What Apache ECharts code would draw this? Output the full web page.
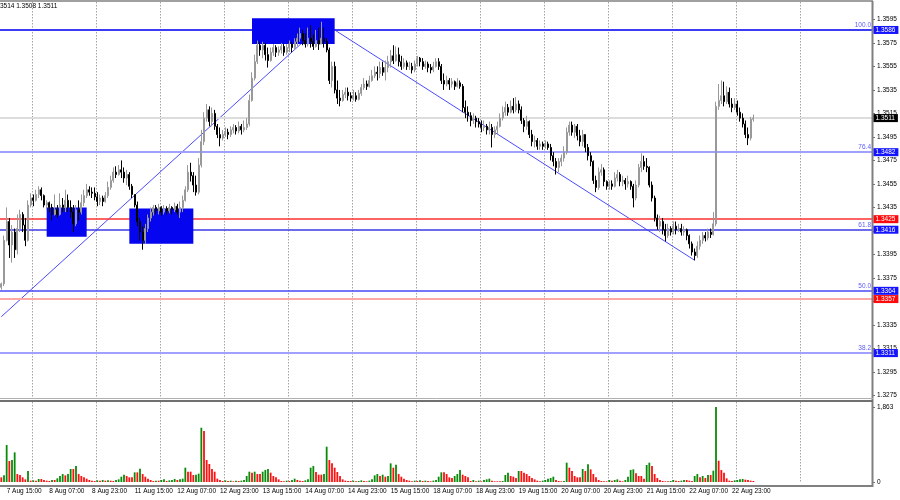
<!DOCTYPE html>
<html><head><meta charset="utf-8">
<script src="https://cdn.jsdelivr.net/npm/echarts@6/dist/echarts.min.js"></script>
<style>html,body{margin:0;padding:0;background:#fff}#c{width:900px;height:500px}</style>
</head><body><div id="c"></div>
<script>
// ---------- DATA (H1 bars) ----------
const days = ['7 Aug','8 Aug','11 Aug','12 Aug','13 Aug','14 Aug','15 Aug','18 Aug','19 Aug','20 Aug','21 Aug','22 Aug','25 Aug'];
const firstHour = 13, lastHour = 7;

const opens = [
1.3367,1.3370,1.3407,1.3423,1.3403,1.3414,1.3399,1.3417,1.3429,1.3420,1.3407,
1.3437,1.3443,1.3441,1.3446,1.3450,1.3445,1.3437,1.3439,1.3435,1.3429,1.3433,1.3429,1.3437,1.3435,1.3441,1.3435,1.3431,1.3421,1.3433,1.3431,1.3439,1.3445,1.3450,1.3448,
1.3447,1.3444,1.3440,1.3443,1.3440,1.3445,1.3452,1.3458,1.3465,1.3463,1.3467,1.3465,1.3460,1.3463,1.3453,1.3446,1.3437,1.3423,1.3414,1.3407,1.3417,1.3426,1.3431,1.3435,
1.3432,1.3435,1.3431,1.3434,1.3432,1.3435,1.3433,1.3436,1.3431,1.3435,1.3441,1.3450,1.3465,1.3462,1.3454,1.3448,1.3471,1.3491,1.3511,1.3518,1.3508,1.3515,1.3504,1.3497,
1.3494,1.3497,1.3499,1.3497,1.3501,1.3503,1.3500,1.3504,1.3501,1.3503,1.3506,1.3526,1.3545,1.3559,1.3573,1.3569,1.3573,1.3565,1.3560,1.3567,1.3571,1.3567,1.3569,1.3572,
1.3567,1.3571,1.3574,1.3571,1.3576,1.3579,1.3583,1.3577,1.3574,1.3579,1.3576,1.3572,1.3577,1.3574,1.3579,1.3576,1.3569,1.3543,1.3555,1.3535,1.3528,1.3526,1.3531,1.3533,
1.3530,1.3528,1.3530,1.3527,1.3532,1.3537,1.3540,1.3538,1.3543,1.3547,1.3550,1.3549,1.3554,1.3550,1.3554,1.3559,1.3564,1.3560,1.3565,1.3559,1.3555,1.3558,1.3555,1.3555,
1.3552,1.3557,1.3562,1.3559,1.3555,1.3557,1.3554,1.3552,1.3555,1.3559,1.3555,1.3543,1.3540,1.3543,1.3540,1.3542,1.3538,1.3541,1.3538,1.3520,1.3516,1.3513,1.3509,1.3511,
1.3508,1.3506,1.3503,1.3504,1.3501,1.3503,1.3497,1.3501,1.3504,1.3511,1.3516,1.3520,1.3516,1.3521,1.3518,1.3523,1.3518,1.3509,1.3504,1.3508,1.3497,1.3491,1.3492,1.3487,
1.3489,1.3487,1.3489,1.3486,1.3479,1.3474,1.3469,1.3474,1.3477,1.3482,1.3499,1.3505,1.3499,1.3504,1.3496,1.3491,1.3497,1.3486,1.3479,1.3474,1.3458,1.3452,1.3465,1.3467,
1.3457,1.3453,1.3455,1.3453,1.3460,1.3463,1.3457,1.3458,1.3455,1.3457,1.3453,1.3443,1.3454,1.3469,1.3474,1.3470,1.3469,1.3454,1.3443,1.3426,1.3419,1.3423,1.3416,1.3411,
1.3417,1.3414,1.3419,1.3416,1.3417,1.3414,1.3416,1.3411,1.3404,1.3397,1.3394,1.3402,1.3407,1.3411,1.3409,1.3414,1.3412,1.3421,1.3521,1.3526,1.3530,1.3525,1.3533,1.3523,
1.3520,1.3523,1.3516,1.3511,1.3506,1.3497,1.3494,1.3510];

const highs = [
1.3371,1.3411,1.3435,1.3426,1.3420,1.3417,1.3429,1.3433,1.3431,1.3426,1.3441,
1.3447,1.3446,1.3450,1.3453,1.3452,1.3446,1.3441,1.3440,1.3438,1.3446,1.3437,1.3447,1.3443,1.3450,1.3446,1.3441,1.3437,1.3437,1.3441,1.3446,1.3450,1.3455,1.3453,1.3452,
1.3452,1.3448,1.3446,1.3445,1.3448,1.3457,1.3462,1.3469,1.3470,1.3471,1.3475,1.3469,1.3467,1.3465,1.3455,1.3446,1.3440,1.3426,1.3419,1.3421,1.3429,1.3435,1.3437,1.3437,
1.3438,1.3436,1.3437,1.3436,1.3438,1.3436,1.3439,1.3438,1.3440,1.3445,1.3453,1.3471,1.3473,1.3465,1.3462,1.3477,1.3501,1.3516,1.3523,1.3521,1.3520,1.3518,1.3506,1.3503,
1.3501,1.3503,1.3502,1.3504,1.3506,1.3505,1.3508,1.3506,1.3509,1.3511,1.3531,1.3550,1.3565,1.3577,1.3576,1.3576,1.3575,1.3571,1.3571,1.3574,1.3573,1.3572,1.3575,1.3574,
1.3574,1.3577,1.3576,1.3579,1.3583,1.3588,1.3586,1.3583,1.3588,1.3590,1.3582,1.3586,1.3588,1.3593,1.3588,1.3579,1.3571,1.3559,1.3559,1.3543,1.3535,1.3535,1.3537,1.3537,
1.3533,1.3535,1.3533,1.3535,1.3540,1.3545,1.3543,1.3547,1.3552,1.3555,1.3555,1.3559,1.3559,1.3560,1.3564,1.3569,1.3573,1.3572,1.3571,1.3564,1.3562,1.3560,1.3559,1.3558,
1.3560,1.3564,1.3563,1.3562,1.3560,1.3559,1.3557,1.3559,1.3562,1.3562,1.3557,1.3549,1.3547,1.3545,1.3545,1.3543,1.3545,1.3543,1.3540,1.3526,1.3521,1.3516,1.3515,1.3513,
1.3511,1.3509,1.3509,1.3506,1.3508,1.3506,1.3504,1.3508,1.3515,1.3521,1.3525,1.3523,1.3526,1.3528,1.3529,1.3526,1.3521,1.3511,1.3513,1.3509,1.3501,1.3496,1.3494,1.3492,
1.3491,1.3492,1.3491,1.3489,1.3482,1.3477,1.3477,1.3480,1.3487,1.3503,1.3508,1.3508,1.3506,1.3506,1.3501,1.3501,1.3497,1.3489,1.3482,1.3475,1.3462,1.3469,1.3472,1.3469,
1.3458,1.3458,1.3458,1.3465,1.3467,1.3465,1.3462,1.3460,1.3462,1.3458,1.3455,1.3458,1.3472,1.3481,1.3479,1.3477,1.3470,1.3457,1.3445,1.3429,1.3428,1.3426,1.3421,1.3421,
1.3419,1.3423,1.3423,1.3421,1.3421,1.3419,1.3417,1.3412,1.3406,1.3400,1.3406,1.3411,1.3414,1.3414,1.3417,1.3417,1.3431,1.3525,1.3540,1.3543,1.3542,1.3538,1.3537,1.3528,
1.3528,1.3526,1.3520,1.3515,1.3509,1.3503,1.3512,1.3514];

const lows = [
1.3365,1.3368,1.3406,1.3392,1.3388,1.3392,1.3395,1.3414,1.3414,1.3402,1.3406,
1.3435,1.3436,1.3440,1.3443,1.3441,1.3435,1.3433,1.3431,1.3424,1.3428,1.3426,1.3428,1.3431,1.3431,1.3431,1.3426,1.3414,1.3419,1.3424,1.3429,1.3436,1.3443,1.3445,1.3443,
1.3441,1.3436,1.3437,1.3436,1.3439,1.3443,1.3450,1.3456,1.3460,1.3462,1.3460,1.3456,1.3454,1.3450,1.3443,1.3435,1.3419,1.3407,1.3399,1.3404,1.3414,1.3423,1.3428,1.3429,
1.3429,1.3428,1.3429,1.3429,1.3430,1.3429,1.3431,1.3429,1.3426,1.3431,1.3440,1.3448,1.3457,1.3448,1.3445,1.3446,1.3469,1.3488,1.3508,1.3504,1.3504,1.3501,1.3494,1.3487,
1.3492,1.3495,1.3493,1.3495,1.3498,1.3497,1.3498,1.3497,1.3499,1.3501,1.3504,1.3525,1.3543,1.3557,1.3564,1.3562,1.3560,1.3554,1.3559,1.3564,1.3563,1.3564,1.3566,1.3564,
1.3565,1.3567,1.3567,1.3569,1.3572,1.3576,1.3573,1.3571,1.3572,1.3571,1.3569,1.3571,1.3569,1.3574,1.3571,1.3567,1.3540,1.3537,1.3532,1.3523,1.3521,1.3525,1.3528,1.3526,
1.3525,1.3526,1.3525,1.3526,1.3530,1.3535,1.3535,1.3537,1.3542,1.3545,1.3543,1.3545,1.3547,1.3543,1.3550,1.3554,1.3557,1.3559,1.3555,1.3552,1.3553,1.3552,1.3552,1.3549,
1.3550,1.3555,1.3555,1.3552,1.3553,1.3550,1.3549,1.3550,1.3554,1.3552,1.3540,1.3535,1.3538,1.3535,1.3537,1.3535,1.3537,1.3536,1.3516,1.3511,1.3508,1.3504,1.3506,1.3503,
1.3503,1.3499,1.3500,1.3497,1.3497,1.3486,1.3494,1.3497,1.3503,1.3509,1.3513,1.3513,1.3515,1.3515,1.3516,1.3515,1.3506,1.3499,1.3501,1.3494,1.3487,1.3486,1.3484,1.3484,
1.3484,1.3485,1.3484,1.3475,1.3470,1.3463,1.3465,1.3470,1.3474,1.3480,1.3496,1.3496,1.3494,1.3492,1.3487,1.3487,1.3482,1.3475,1.3470,1.3455,1.3448,1.3450,1.3462,1.3453,
1.3450,1.3450,1.3450,1.3452,1.3457,1.3453,1.3453,1.3450,1.3452,1.3450,1.3435,1.3441,1.3452,1.3465,1.3467,1.3465,1.3452,1.3440,1.3423,1.3416,1.3414,1.3412,1.3406,1.3409,
1.3411,1.3412,1.3412,1.3414,1.3411,1.3411,1.3407,1.3400,1.3394,1.3390,1.3392,1.3399,1.3404,1.3406,1.3407,1.3409,1.3411,1.3419,1.3518,1.3523,1.3521,1.3523,1.3520,1.3516,
1.3518,1.3513,1.3508,1.3503,1.3494,1.3488,1.3492,1.3508];

const closes = [
1.3370,1.3407,1.3423,1.3403,1.3414,1.3399,1.3417,1.3429,1.3420,1.3407,1.3437,
1.3443,1.3441,1.3446,1.3450,1.3445,1.3437,1.3439,1.3435,1.3429,1.3433,1.3429,1.3437,1.3435,1.3441,1.3435,1.3431,1.3421,1.3433,1.3431,1.3439,1.3445,1.3450,1.3448,1.3447,
1.3444,1.3440,1.3443,1.3440,1.3445,1.3452,1.3458,1.3465,1.3463,1.3467,1.3465,1.3460,1.3463,1.3453,1.3446,1.3437,1.3423,1.3414,1.3407,1.3417,1.3426,1.3431,1.3435,1.3432,
1.3435,1.3431,1.3434,1.3432,1.3435,1.3433,1.3436,1.3431,1.3435,1.3441,1.3450,1.3465,1.3462,1.3454,1.3448,1.3471,1.3491,1.3511,1.3518,1.3508,1.3515,1.3504,1.3497,1.3494,
1.3497,1.3499,1.3497,1.3501,1.3503,1.3500,1.3504,1.3501,1.3503,1.3506,1.3526,1.3545,1.3559,1.3573,1.3569,1.3573,1.3565,1.3560,1.3567,1.3571,1.3567,1.3569,1.3572,1.3567,
1.3571,1.3574,1.3571,1.3576,1.3579,1.3583,1.3577,1.3574,1.3579,1.3576,1.3572,1.3577,1.3574,1.3579,1.3576,1.3569,1.3543,1.3555,1.3535,1.3528,1.3526,1.3531,1.3533,1.3530,
1.3528,1.3530,1.3527,1.3532,1.3537,1.3540,1.3538,1.3543,1.3547,1.3550,1.3549,1.3554,1.3550,1.3554,1.3559,1.3564,1.3560,1.3565,1.3559,1.3555,1.3558,1.3555,1.3555,1.3552,
1.3557,1.3562,1.3559,1.3555,1.3557,1.3554,1.3552,1.3555,1.3559,1.3555,1.3543,1.3540,1.3543,1.3540,1.3542,1.3538,1.3541,1.3538,1.3520,1.3516,1.3513,1.3509,1.3511,1.3508,
1.3506,1.3503,1.3504,1.3501,1.3503,1.3497,1.3501,1.3504,1.3511,1.3516,1.3520,1.3516,1.3521,1.3518,1.3523,1.3518,1.3509,1.3504,1.3508,1.3497,1.3491,1.3492,1.3487,1.3489,
1.3487,1.3489,1.3486,1.3479,1.3474,1.3469,1.3474,1.3477,1.3482,1.3499,1.3505,1.3499,1.3504,1.3496,1.3491,1.3497,1.3486,1.3479,1.3474,1.3458,1.3452,1.3465,1.3467,1.3457,
1.3453,1.3455,1.3453,1.3460,1.3463,1.3457,1.3458,1.3455,1.3457,1.3453,1.3443,1.3454,1.3469,1.3474,1.3470,1.3469,1.3454,1.3443,1.3426,1.3419,1.3423,1.3416,1.3411,1.3417,
1.3414,1.3419,1.3416,1.3417,1.3414,1.3416,1.3411,1.3404,1.3397,1.3394,1.3402,1.3407,1.3411,1.3409,1.3414,1.3412,1.3421,1.3521,1.3526,1.3530,1.3525,1.3533,1.3523,1.3520,
1.3523,1.3516,1.3511,1.3506,1.3497,1.3494,1.3510,1.3511];

const volumes = [
116,165,918,521,546,736,198,174,116,66,273,
33,41,33,74,74,50,33,25,50,50,91,149,198,165,198,323,323,397,198,149,116,83,50,33,
25,41,33,50,33,41,33,25,50,66,132,182,149,116,116,240,240,331,198,132,83,50,25,33,
33,50,66,25,41,50,74,50,66,83,356,256,256,174,182,207,1348,1265,546,447,323,256,83,50,
25,41,25,33,17,33,25,33,50,149,256,232,256,198,198,256,298,323,232,149,116,66,25,17,
33,25,50,83,50,33,25,41,66,356,397,248,182,182,198,877,546,463,356,248,149,66,33,25,
25,33,17,25,41,25,17,33,66,165,198,149,182,132,149,463,356,430,198,132,83,50,33,17,
33,25,41,25,33,25,17,33,50,132,240,240,198,116,99,149,198,298,182,149,116,25,50,17,
33,17,50,66,83,33,17,17,17,25,174,232,149,132,99,273,273,232,198,149,99,66,33,17,
33,50,83,99,132,50,25,17,25,480,356,273,149,116,116,323,273,438,314,198,116,50,25,17,
17,50,33,50,66,33,17,50,132,298,314,215,149,149,83,422,480,397,198,99,50,25,17,17,
25,50,33,25,33,50,50,33,25,149,198,116,149,99,174,174,281,1863,529,298,232,91,33,25,
41,50,66,74,58,50,33,25];

const priceTicks = [1.3275,1.3295,1.3315,1.3335,1.3355,1.3375,1.3395,1.3415,1.3435,1.3455,1.3475,1.3495,1.3515,1.3535,1.3555,1.3575,1.3595];
const volumeTicks = [0, 1863];
const fiboPrices = [1.3586, 1.3482, 1.3416, 1.3364, 1.3311];
const fiboTexts = ['100.0', '76.4', '61.8', '50.0', '38.2'];
const redLevels = [1.3425, 1.3357];
const lastPrice = 1.3511;
const headerText = '1.3514 1.3508 1.3511';
// zones: [firstBar, lastBar, top price, bottom price]
const zones = [[17, 32, 1.3435, 1.3410], [48, 72, 1.3434, 1.3404], [94, 125, 1.3596, 1.3574]];
// trend lines: [bar, price, bar, price]
const trendLines = [[0, 1.3342, 120, 1.3590], [125, 1.3586, 260, 1.3390]];

// ---------- STYLES ----------
const FONT = '"Liberation Sans", Arial, sans-serif';
const FS = 6.5;
const fiboLineStyles = [
  {color:'#3c3cf2', width:2}, {color:'#a0a0ff', width:2}, {color:'#3a3ae6', width:1.5},
  {color:'#4848f4', width:1.5}, {color:'#a0a0ff', width:2}];
const redLineStyles = [{color:'#ff3030', width:1.5}, {color:'#ffa8a8', width:2}];
const lastLineStyle = {color:'#dcdcdc', width:2};
const UP = '#999999', DOWN = '#000000', VUP = '#0a8a0a', VDN = '#ff1010';
const BLUE_BOX = '#1414ff', RED_BOX = '#ff0a0a', LAST_BOX = '#000000', FIBO_TEXT = '#5a5aff';

// ---------- BUILD ----------
const categories = [];
days.forEach((d, k) => {
  const h0 = k === 0 ? firstHour : 0, h1 = k === days.length - 1 ? lastHour : 23;
  for (let h = h0; h <= h1; h++) categories.push(d + ' ' + String(h).padStart(2, '0') + ':00');
});
const nBars = closes.length;
const SLOTS = 327;
while (categories.length < SLOTS) categories.push('pad' + categories.length);

const candleData = closes.map((c, i) => [opens[i], c, lows[i], highs[i]]);
const labelShow = (i) => i >= 2 && i < nBars && (i - 2) % 16 === 0;
const gridShow = (i) => i >= 12 && i <= 300 && (i - 12) % 24 === 0;

const xBase = {
  type: 'category', data: categories, boundaryGap: true,
  axisLine: {show: false}, axisTick: {show: false},
  splitLine: {show: true, interval: gridShow, lineStyle: {color: '#a4a4a4', type: [1.5, 1.5], width: 1}}
};

const chart = echarts.init(document.getElementById('c'), null, {renderer: 'canvas'});
chart.setOption({
  animation: false,
  backgroundColor: '#ffffff',
  textStyle: {fontFamily: FONT},
  grid: [
    {left: 0, right: 28, top: 2, height: 396, outerBoundsMode: 'none'},
    {left: 0, right: 28, top: 402, height: 80, outerBoundsMode: 'none'}
  ],
  xAxis: [
    Object.assign({}, xBase, {gridIndex: 0, axisLabel: {show: false}}),
    Object.assign({}, xBase, {gridIndex: 1, axisLabel: {show: true, interval: labelShow, align: 'left', margin: 6,
      fontSize: FS, fontFamily: FONT, color: '#000'}})
  ],
  yAxis: [
    {type: 'value', gridIndex: 0, position: 'right', min: 1.32728, max: 1.36098, scale: true,
      splitLine: {show: false}, axisLine: {show: false},
      axisTick: {show: true, length: 3, customValues: priceTicks, lineStyle: {color: '#707070'}},
      axisLabel: {show: true, customValues: priceTicks, margin: 5, fontSize: FS, fontFamily: FONT, color: '#000',
        formatter: v => v.toFixed(4)}},
    {type: 'value', gridIndex: 1, position: 'right', min: 0, max: 1987,
      splitLine: {show: false}, axisLine: {show: false},
      axisTick: {show: true, length: 3, customValues: volumeTicks, lineStyle: {color: '#707070'}},
      axisLabel: {show: true, customValues: volumeTicks, margin: 5, fontSize: FS, fontFamily: FONT, color: '#000'}}
  ],
  series: [
    { // trend lines
      type: 'line', xAxisIndex: 0, yAxisIndex: 0, data: [], silent: true,
      markLine: {z: 1, silent: true, symbol: ['none', 'none'], animation: false, precision: 5, label: {show: false},
        lineStyle: {color: '#4a4aff', width: 1, type: 'solid'},
        data: trendLines.map(t => [{coord: [t[0], t[1]]}, {coord: [t[2], t[3]]}])}
    },
    { // rectangles
      type: 'line', xAxisIndex: 0, yAxisIndex: 0, data: [], silent: true,
      markArea: {z: 2, silent: true, animation: false, precision: 5, itemStyle: {color: '#0505f0', opacity: 1},
        data: zones.map(z => [{coord: [z[0], z[2]]}, {coord: [z[1], z[3]]}])}
    },
    {
      type: 'candlestick', xAxisIndex: 0, yAxisIndex: 0, z: 3, barWidth: 1.8, data: candleData,
      itemStyle: {color: UP, color0: DOWN, borderColor: UP, borderColor0: DOWN, borderWidth: 1}
    },
    {
      type: 'bar', xAxisIndex: 1, yAxisIndex: 1, data: volumes, barWidth: 1.8,
      itemStyle: {color: p => (p.dataIndex > 0 && volumes[p.dataIndex] > volumes[p.dataIndex - 1]) ? VUP : VDN}
    }
  ]
});

// horizontal levels and their price tags, placed through the chart's own scales
const xLeft = chart.convertToPixel({xAxisIndex: 0}, 0) - 1.34;
const xRight = chart.convertToPixel({xAxisIndex: 0}, SLOTS - 1) + 1.34;
const yOf = p => chart.convertToPixel({yAxisIndex: 0}, p);
const crisp = (y, w) => (w % 2 === 1) ? Math.floor(y) + 0.5 : Math.round(y);

const levelDefs = [[lastPrice, lastLineStyle, null, LAST_BOX]];
redLevels.forEach((p, k) => levelDefs.push([p, redLineStyles[k], null, RED_BOX]));
fiboPrices.forEach((p, k) => levelDefs.push([p, fiboLineStyles[k], fiboTexts[k], BLUE_BOX]));

const levelGraphics = [];
levelDefs.forEach(([p, st, txt]) => {
  const y = crisp(yOf(p), st.width);
  levelGraphics.push({type: 'line', silent: true, z: 1, zlevel: 0,
    shape: {x1: xLeft, y1: y, x2: xRight, y2: y}, style: {stroke: st.color, lineWidth: st.width}});
  if (txt) levelGraphics.push({type: 'text', silent: true, z: 1, x: xRight - 1, y: y - 1.5,
    style: {text: txt, fill: FIBO_TEXT, font: FS + 'px ' + FONT, align: 'right', verticalAlign: 'bottom'}});
});
const tagGraphics = levelDefs.map(([p, st, txt, bg]) => ({
  type: 'text', silent: true, z: 30, x: xRight + 1.5, y: yOf(p),
  style: {text: p.toFixed(4), fill: '#fff', backgroundColor: bg, padding: [1, 3, 0, 2],
    font: FS + 'px ' + FONT, verticalAlign: 'middle', align: 'left'}
}));

chart.setOption({
  graphic: levelGraphics.concat([
    {type: 'line', silent: true, z: 20, shape: {x1: 0, y1: 1, x2: 873, y2: 1}, style: {stroke: '#808080', lineWidth: 1.5}},
    {type: 'line', silent: true, z: 20, shape: {x1: 872.5, y1: 1, x2: 872.5, y2: 487}, style: {stroke: '#808080', lineWidth: 2}},
    {type: 'line', silent: true, z: 20, shape: {x1: 0, y1: 398.5, x2: 873, y2: 398.5}, style: {stroke: '#b0b0b0', lineWidth: 1}},
    {type: 'line', silent: true, z: 20, shape: {x1: 0, y1: 401, x2: 873, y2: 401}, style: {stroke: '#707070', lineWidth: 2}},
    {type: 'line', silent: true, z: 20, shape: {x1: 0, y1: 486, x2: 873, y2: 486}, style: {stroke: '#808080', lineWidth: 2}},
    {type: 'text', silent: true, z: 20, x: -5.5, y: 3, style: {text: headerText, font: FS + 'px ' + FONT, fill: '#000'}}
  ], tagGraphics)
});
</script>
</body></html>
